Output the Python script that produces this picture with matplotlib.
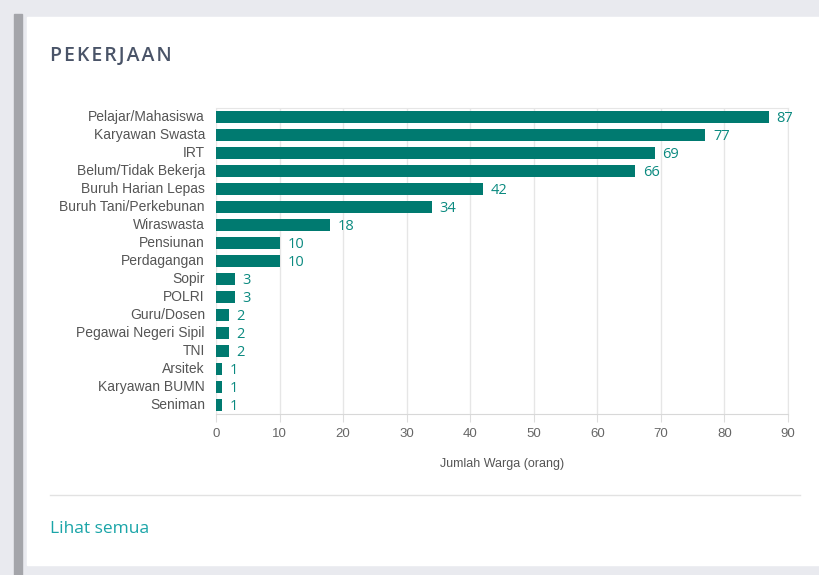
import matplotlib.pyplot as plt
from matplotlib.patches import Rectangle
from matplotlib.lines import Line2D

plt.rcParams['font.family'] = ['Liberation Sans', 'DejaVu Sans']

pekerjaan = ["Pelajar/Mahasiswa", "Karyawan Swasta", "IRT", "Belum/Tidak Bekerja",
             "Buruh Harian Lepas", "Buruh Tani/Perkebunan", "Wiraswasta", "Pensiunan",
             "Perdagangan", "Sopir", "POLRI", "Guru/Dosen", "Pegawai Negeri Sipil",
             "TNI", "Arsitek", "Karyawan BUMN", "Seniman"]
jumlah = [87, 77, 69, 66, 42, 34, 18, 10, 10, 3, 3, 2, 2, 2, 1, 1, 1]
x_ticks = [0, 10, 20, 30, 40, 50, 60, 70, 80, 90]

bar_color = "#007a70"
label_color = "#0b8a80"

fig = plt.figure(figsize=(8.2, 5.75), dpi=100)
fig.patch.set_facecolor("#e9eaef")

# card background + left shadow
fig.patches.append(Rectangle((14 / 820, 0.0), 8 / 820, 1 - 14 / 575,
                             transform=fig.transFigure, color="#a4a5aa", zorder=-2))
fig.patches.append(Rectangle((27 / 820, 1 - 565 / 575), 1.0, (565 - 17) / 575,
                             transform=fig.transFigure, color="white", zorder=-1))

fig.text(50 / 820, 1 - 56 / 575, "P E K E R J A A N".replace(" ", "\u200a"),
         fontsize=14, color="#4a5468", fontweight="semibold", va="center", ha="left",
         family=["Open Sans", "DejaVu Sans"])

ax = fig.add_axes([216 / 820, 1 - 414 / 575, 572 / 820, 306 / 575])
ax.set_facecolor("white")
y = list(range(len(pekerjaan)))
ax.barh(y, jumlah, height=0.72, color=bar_color, zorder=3)
for yi, v in zip(y, jumlah):
    ax.text(v + 1.2, yi, str(v), va="center_baseline", ha="left", fontsize=10.5,
            color=label_color, family=["Open Sans", "DejaVu Sans"])

ax.set_ylim(len(pekerjaan) - 0.5, -0.5)
ax.set_yticks(y)
ax.set_yticklabels(pekerjaan, fontsize=10, color="#555555", va="center")
ax.set_xlim(0, 90)
ax.set_xticks(x_ticks)
ax.set_xticklabels([str(t) for t in x_ticks], fontsize=9.5, color="#666666")
ax.tick_params(axis="y", length=0, pad=8)
ax.tick_params(axis="x", length=6, color="#dddddd", pad=4)
ax.grid(axis="x", color="#e6e6e6", linewidth=1, zorder=0)
for side in ["top", "right"]:
    ax.spines[side].set_color("#e6e6e6")
ax.spines["left"].set_visible(False)
ax.spines["bottom"].set_color("#d8d8d8")
ax.set_xlabel("Jumlah Warga (orang)", fontsize=9, color="#555555", labelpad=13)

fig.add_artist(Line2D([50 / 820, 800 / 820], [1 - 495 / 575, 1 - 495 / 575],
                      transform=fig.transFigure, color="#e2e2e2", linewidth=1))
fig.text(50 / 820, 1 - 529 / 575, "Lihat semua", fontsize=12.5, color="#1aa5a8",
         va="center", ha="left", family=["Open Sans", "DejaVu Sans"])

fig.savefig("out.png", dpi=100, facecolor=fig.get_facecolor())
